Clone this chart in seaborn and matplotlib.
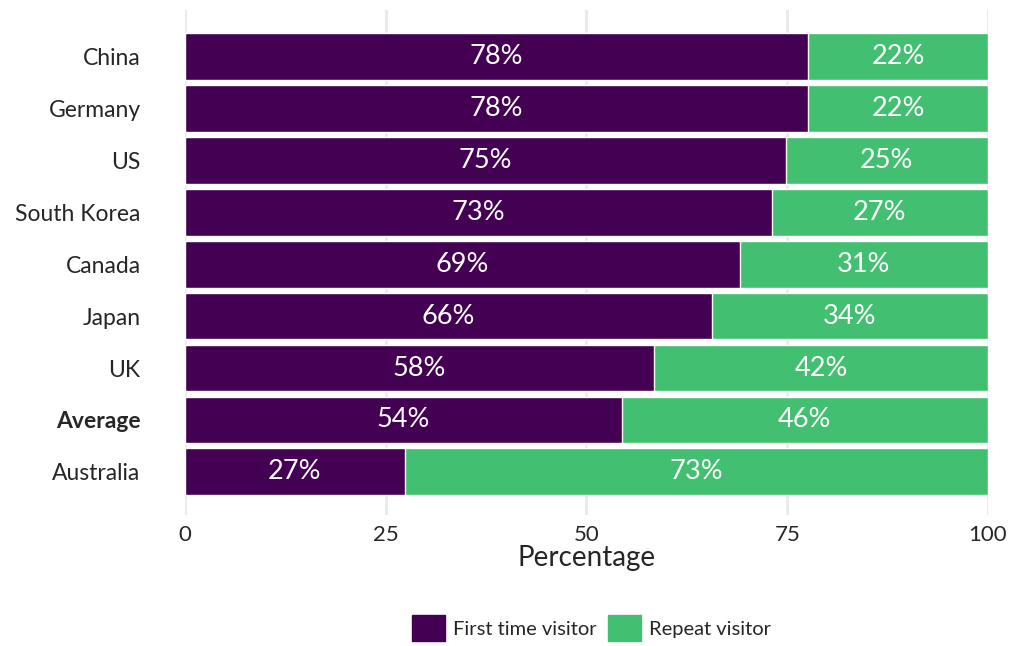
import pandas as pd
import matplotlib

matplotlib.use("Agg")
import matplotlib.pyplot as plt
import matplotlib.patches as mpatches
import seaborn as sns

countries = ["China", "Germany", "US", "South Korea", "Canada", "Japan", "UK", "Average", "Australia"]
first_time = [77.6, 77.6, 74.8, 73.1, 69.1, 65.6, 58.4, 54.4, 27.4]
repeat = [22.4, 22.4, 25.2, 26.9, 30.9, 34.4, 41.6, 45.6, 72.6]
x_ticks = [0, 25, 50, 75, 100]

PURPLE = "#440154"
GREEN = "#43BF71"

sns.set_theme(style="white")
plt.rcParams["font.family"] = ["Lato", "DejaVu Sans"]

df = pd.DataFrame({"country": countries, "first": first_time, "repeat": repeat})
df["total"] = df["first"] + df["repeat"]

fig = plt.figure(figsize=(10.13, 6.46), dpi=100)
ax = fig.add_axes([0.1826, 0.203, 0.7927, 0.7815])

for t in x_ticks:
    ax.axvline(t, color="#EBEBEB", lw=2.2, zorder=0)

sns.barplot(data=df, x="total", y="country", color=GREEN, orient="h",
            width=0.9, saturation=1, ax=ax, zorder=2)
sns.barplot(data=df, x="first", y="country", color=PURPLE, orient="h",
            width=0.9, saturation=1, ax=ax, zorder=3)

for i, row in df.iterrows():
    ax.text(row["first"] / 2, i, f"{round(row['first'])}%", color="white",
            ha="center", va="center", fontsize=19.5, zorder=4)
    ax.text(row["first"] + row["repeat"] / 2, i, f"{round(row['repeat'])}%",
            color="white", ha="center", va="center", fontsize=19.5, zorder=4)

ax.set_xlim(0, 100)
ax.set_ylim(len(countries) - 1 + 0.83, -0.9)
ax.set_xticks(x_ticks)
ax.set_xticklabels([str(t) for t in x_ticks], fontsize=16)
ax.tick_params(axis="y", labelsize=16.5, length=0, pad=32)
ax.tick_params(axis="x", length=0, pad=7)
for lbl in ax.get_yticklabels():
    if lbl.get_text() == "Average":
        lbl.set_fontweight("bold")
ax.set_ylabel("")
ax.set_xlabel("Percentage", fontsize=20, labelpad=0)
ax.margins(x=0)
sns.despine(ax=ax, left=True, bottom=True)

handles = [mpatches.Patch(color=PURPLE, label="First time visitor"),
           mpatches.Patch(color=GREEN, label="Repeat visitor")]
fig.legend(handles=handles, loc="center", bbox_to_anchor=(0.584, 0.028), ncol=2,
           frameon=False, fontsize=14.5, handlelength=1.6, handleheight=1.6,
           handletextpad=0.4, columnspacing=0.6)

fig.savefig("out.png", dpi=100)
